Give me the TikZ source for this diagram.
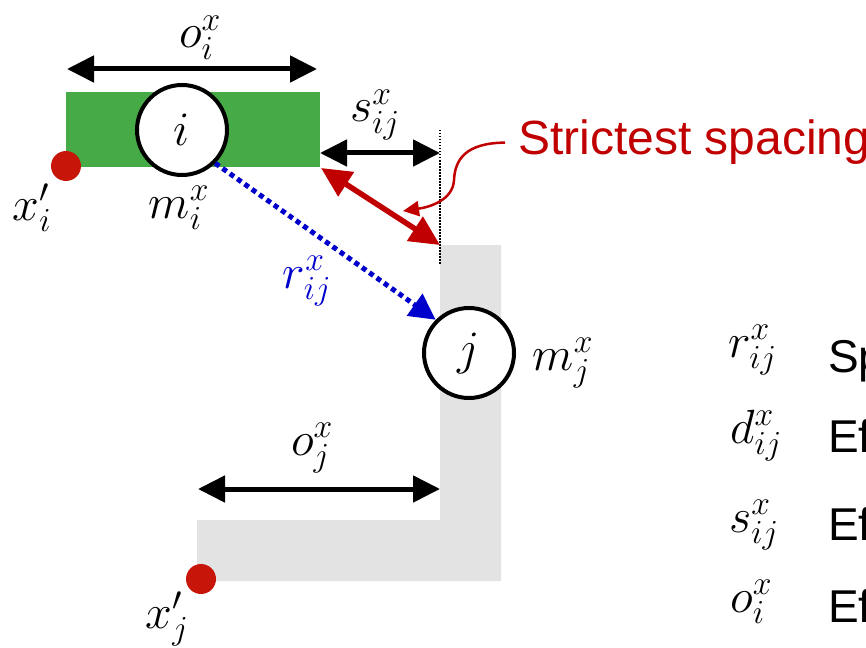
\RequirePackage{fix-cm}
\documentclass[tikz,border=0pt]{standalone}
\usepackage{fontspec}
\setmainfont{Liberation Sans}
\usetikzlibrary{arrows.meta}
\definecolor{pgreen}{HTML}{46AA46}
\definecolor{pgray}{HTML}{E3E3E3}
\definecolor{pred}{HTML}{C00000}
\definecolor{pdot}{HTML}{C8150A}
\definecolor{pblue}{HTML}{0000CC}
\begin{document}
\begin{tikzpicture}[x=1pt,y=-1pt,
  lab/.style={inner sep=0, font=\fontsize{48}{52}\selectfont},
  blk/.style={line width=5pt, {Triangle[length=27pt,width=26pt]}-{Triangle[length=27pt,width=26pt]}},
  redarr/.style={draw=pred, line width=5.5pt, {Triangle[length=30pt,width=28pt]}-{Triangle[length=30pt,width=28pt]}},
  callout/.style={draw=pred, line width=2.5pt, -{Triangle[length=16pt,width=15pt]}},
  bluearr/.style={draw=pblue, line width=5pt, dash pattern=on 5pt off 4pt, -{Triangle[length=26pt,width=26pt]}},
  ball/.style={circle, draw=black, line width=4pt, fill=white, minimum size=90pt, inner sep=0, font=\fontsize{48}{52}\selectfont},
  rdot/.style={circle, fill=pdot, minimum size=30pt, inner sep=0},
  legtext/.style={inner sep=0, anchor=base west, font=\fontsize{46}{50}\selectfont}]
\useasboundingbox (0,0) rectangle (866,647);
\clip (0,0) rectangle (866,647);
% shapes
\fill[pgreen] (66,92) rectangle (320,167);
\fill[pgray] (440,245) -- (501,245) -- (501,581) -- (197,581) -- (197,520) -- (440,520) -- cycle;
% coordinates
\coordinate (dtop) at (440,130);
\coordinate (dbot) at (440,264);
\coordinate (oiL) at (67,69);
\coordinate (oiR) at (317,69);
\coordinate (sL) at (320,153);
\coordinate (sR) at (440,153);
\coordinate (ojL) at (198,489);
\coordinate (ojR) at (440,489);
\coordinate (gcorner) at (321,168);
\coordinate (lcorner) at (440,245);
\coordinate (ctip) at (403,211);
% dotted boundary
\draw[line width=1.5pt, dash pattern=on 1.5pt off 1.5pt] (dtop) -- (dbot);
% nodes
\node[ball] (ci) at (182,130) {$i$};
\node[ball] (cj) at (469,353) {$j$};
\node[rdot] (xi) at (66,166) {};
\node[rdot] (xj) at (201,579) {};
% labels
\node[lab, anchor=base] (loi) at (200,48) {$o_i^x$};
\node[lab, anchor=base] (lsij) at (375,122) {$s_{ij}^x$};
\node[lab, anchor=base] (lmi) at (179,218) {$m_i^x$};
\node[lab, anchor=base] (lxi) at (32,220) {$x_i'$};
\node[lab, anchor=base, text=pblue] (lrij) at (307,288) {$r_{ij}^x$};
\node[lab, anchor=base] (lmj) at (563,370) {$m_j^x$};
\node[lab, anchor=base] (loj) at (312,455) {$o_j^x$};
\node[lab, anchor=base] (lxj) at (167,628) {$x_j'$};
% arrows
\draw[blk] (oiL) -- (oiR);
\draw[blk] (sL) -- (sR);
\draw[blk] (ojL) -- (ojR);
\draw[redarr] (gcorner) -- (lcorner);
\draw[bluearr] (ci.-45) -- (cj.135);
% callout
\node[anchor=base west, inner xsep=13pt, inner ysep=0, text=pred, font=\fontsize{48}{52}\selectfont] (st) at (505,155) {Strictest spacing};
\draw[callout] (st.west) .. controls (465,143) and (455,160) .. (454,180) .. controls (453,200) and (430,207) .. (ctip);
% legend
\node[lab, anchor=base west] (gr) at (728,357) {$r_{ij}^x$};
\node[lab, anchor=base west] (gd) at (730,443) {$d_{ij}^x$};
\node[lab, anchor=base west] (gs) at (729,532) {$s_{ij}^x$};
\node[lab, anchor=base west] (go) at (730,612) {$o_i^x$};
\node[legtext] (tr) at (828,372) {Sp};
\node[legtext] (td) at (828,452) {Ef};
\node[legtext] (ts) at (828,540) {Ef};
\node[legtext] (to) at (828,622) {Ef};
\end{tikzpicture}
\end{document}
